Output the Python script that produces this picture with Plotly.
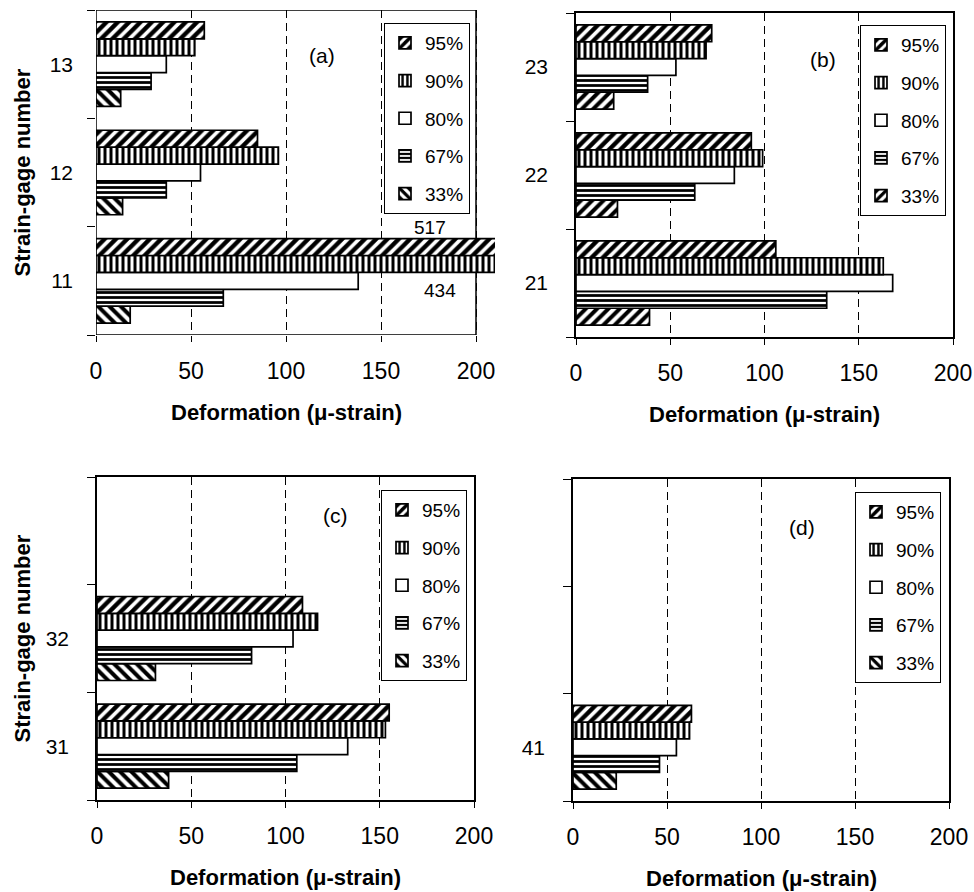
import plotly.graph_objects as go

FONT = "Arial, 'Liberation Sans', Helvetica, sans-serif"
W, H = 974, 892

# ---- data -------------------------------------------------------------
loads = ["33%", "67%", "80%", "90%", "95%"]

gauges_a = ["11", "12", "13"]
a_33 = [18, 14, 13]
a_67 = [67, 37, 29]
a_80 = [138, 55, 37]
a_90 = [434, 96, 52]
a_95 = [517, 85, 57]

gauges_b = ["21", "22", "23"]
b_33 = [39, 22, 20]
b_67 = [133, 63, 38]
b_80 = [168, 84, 53]
b_90 = [163, 99, 69]
b_95 = [106, 93, 72]

gauges_c = ["31", "32"]
c_33 = [38, 31]
c_67 = [106, 82]
c_80 = [133, 104]
c_90 = [153, 117]
c_95 = [155, 109]

gauges_d = ["41"]
d_33 = [23]
d_67 = [46]
d_80 = [55]
d_90 = [62]
d_95 = [63]

x_ticks = [0, 50, 100, 150, 200]
x_tick_text = ["0", "50", "100", "150", "200"]

# ---- styling ----------------------------------------------------------
fill = {
    "95%": dict(shape="/", size=8, solidity=0.55),
    "90%": dict(shape="|", size=6, solidity=0.5),
    "80%": dict(shape="", size=8, solidity=0.5),
    "67%": dict(shape="-", size=5, solidity=0.55),
    "33%": dict(shape="\\", size=8, solidity=0.5),
}

# panel frames in pixels: (left, top, right, bottom); xmax = axis end
panels = [
    dict(key="a", label="(a)", gauges=gauges_a, series=[a_33, a_67, a_80, a_90, a_95],
         box=(96, 10, 476, 335), xmax=210, alt33=False,
         legend_xy=(384, 23), label_xy=(322, 55)),
    dict(key="b", label="(b)", gauges=gauges_b, series=[b_33, b_67, b_80, b_90, b_95],
         box=(576, 13, 953, 337), xmax=200, alt33=True,
         legend_xy=(860, 25), label_xy=(823, 60)),
    dict(key="c", label="(c)", gauges=gauges_c, series=[c_33, c_67, c_80, c_90, c_95],
         box=(97, 477, 474, 800), xmax=200, alt33=False,
         legend_xy=(381, 490), label_xy=(335, 515)),
    dict(key="d", label="(d)", gauges=gauges_d, series=[d_33, d_67, d_80, d_90, d_95],
         box=(573, 479, 949, 801), xmax=200, alt33=False,
         legend_xy=(855, 492), label_xy=(802, 527)),
]

fig = go.Figure()
layout = dict(
    width=W, height=H,
    margin=dict(l=0, r=0, t=0, b=0, autoexpand=False),
    paper_bgcolor="white", plot_bgcolor="white",
    barmode="group", bargap=0.22, bargroupgap=0,
    font=dict(family=FONT, color="black"),
    showlegend=True,
    annotations=[], shapes=[],
)

for i, p in enumerate(panels):
    n = i + 1
    sfx = "" if n == 1 else str(n)
    xa, ya = f"x{sfx}", f"y{sfx}"
    leg = "legend" if n == 1 else f"legend{n}"
    left, top, right, bottom = p["box"]
    px_per_unit = (right - left) / 200.0
    right_ext = left + px_per_unit * p["xmax"]

    ypos = list(range(len(p["gauges"])))
    for k, (load, vals) in enumerate(zip(loads, p["series"])):
        pat = dict(fill[load])
        if load == "33%" and p["alt33"]:
            pat["shape"] = "/"
        fig.add_trace(go.Bar(
            x=vals, y=ypos[:len(vals)], orientation="h",
            name=load, xaxis=xa, yaxis=ya, legend=leg,
            legendgroup=f"{p['key']}-{load}",
            legendrank=len(loads) - k,
            marker=dict(color="white", line=dict(color="black", width=1.7),
                        pattern=dict(fgcolor="black", bgcolor="white",
                                     fillmode="replace", **pat)),
            hoverinfo="skip",
        ))

    framed = p["xmax"] == 200
    layout[f"xaxis{sfx}"] = dict(
        domain=[left / W, right_ext / W], anchor=ya,
        range=[0, p["xmax"]], tickvals=x_ticks, ticktext=x_tick_text,
        ticks="outside", ticklen=6, tickwidth=1, tickcolor="black",
        ticklabelstandoff=9,
        tickfont=dict(size=23, family=FONT, color="black"),
        showgrid=True, gridcolor="black", gridwidth=1, griddash="8px,5px",
        zeroline=False, showline=framed, mirror=framed,
        linecolor="black", linewidth=1.5, fixedrange=True, automargin=False,
    )
    layout[f"yaxis{sfx}"] = dict(
        domain=[1 - bottom / H, 1 - top / H], anchor=xa,
        range=[-0.5, 2.5], tickmode="array", tickvals=ypos, ticktext=p["gauges"],
        ticks="", ticklabelstandoff=22,
        tickfont=dict(size=21, family=FONT, color="black"),
        minor=dict(tickmode="array", tickvals=[-0.5, 0.5, 1.5, 2.5],
                   ticks="outside", ticklen=8, tickwidth=1, tickcolor="black",
                   showgrid=False),
        showgrid=False, zeroline=False, showline=framed, mirror=framed,
        linecolor="black", linewidth=1.5, fixedrange=True, automargin=False,
    )
    if not framed:
        # frame drawn at 200 so the overlong bars run past it
        layout["shapes"].append(dict(
            type="rect", xref=xa, yref=ya, x0=0, x1=200, y0=-0.5, y1=2.5,
            line=dict(color="black", width=1.5), layer="below"))

    lx, ly = p["legend_xy"]
    layout[leg] = dict(
        x=lx / W, y=1 - ly / H, xanchor="left", yanchor="top",
        bordercolor="black", borderwidth=1, bgcolor="white",
        font=dict(size=19, family=FONT, color="black"),
        traceorder="grouped", tracegroupgap=10,
        itemclick=False, itemdoubleclick=False,
    )

    cx, cy = p["label_xy"]
    layout["annotations"].append(dict(
        text=p["label"], xref="paper", yref="paper", x=cx / W, y=1 - cy / H,
        xanchor="center", yanchor="middle",
        showarrow=False, font=dict(size=21, family=FONT, color="black")))

    # axis titles
    layout["annotations"].append(dict(
        text="<b>Deformation (μ-strain)</b>", xref="paper", yref="paper",
        x=(left + right) / 2 / W, y=1 - (bottom + 77) / H,
        xanchor="center", yanchor="middle",
        showarrow=False, font=dict(size=22, family=FONT, color="black")))
    if n in (1, 3):
        layout["annotations"].append(dict(
            text="<b>Strain-gage number</b>", xref="paper", yref="paper",
            x=22 / W, y=1 - (top + bottom) / 2 / H, textangle=-90,
            xanchor="center", yanchor="middle",
            showarrow=False, font=dict(size=22, family=FONT, color="black")))

# values of the two bars that run off the scale in panel (a)
layout["annotations"].append(dict(
    text=str(a_95[0]), xref="x", yref="y", x=176, y=0.49,
    xanchor="center", yanchor="middle",
    showarrow=False, font=dict(size=19, family=FONT, color="black")))
layout["annotations"].append(dict(
    text=str(a_90[0]), xref="x", yref="y", x=181, y=-0.09,
    xanchor="center", yanchor="middle",
    showarrow=False, font=dict(size=19, family=FONT, color="black")))

fig.update_layout(**layout)
fig.write_html(
    "out.html",
    config=dict(displayModeBar=False, responsive=False),
    post_script="document.body.style.margin='0';document.body.style.overflow='hidden';",
)
